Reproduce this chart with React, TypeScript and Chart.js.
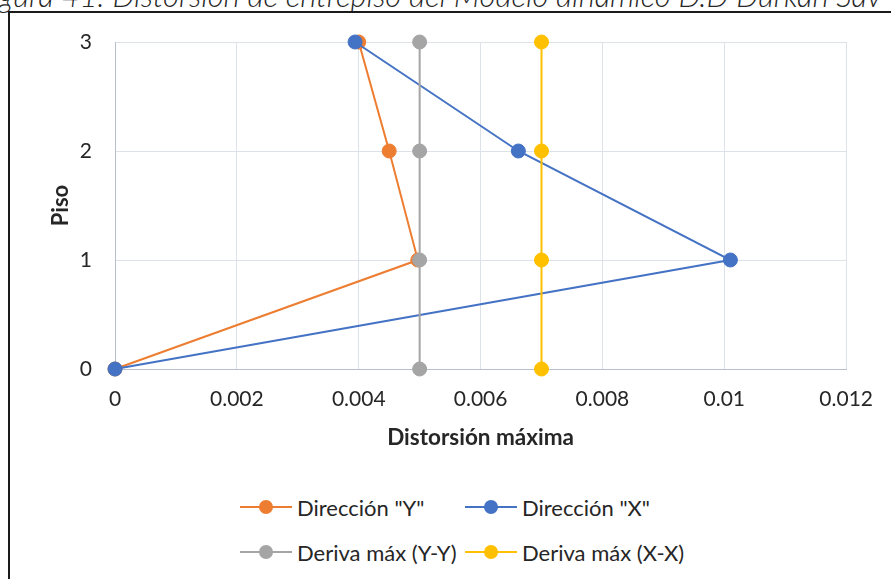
import React, { useEffect, useRef } from "react";
import { Chart, registerables } from "chart.js";

Chart.register(...registerables);

// Storey levels and the inter-storey drift per storey for each series
const pisos = [0, 1, 2, 3];
const direccionY = [0, 0.00497, 0.0045, 0.004];
const direccionX = [0, 0.0101, 0.00662, 0.00394];
const derivaMaxYY = [0.005, 0.005, 0.005, 0.005];
const derivaMaxXX = [0.007, 0.007, 0.007, 0.007];

const seriesNames = ['Dirección "Y"', 'Dirección "X"', "Deriva máx (Y-Y)", "Deriva máx (X-X)"];
const seriesColors = ["#ED7D31", "#4472C4", "#A5A5A5", "#FFC000"];

const xTickValues = [0, 0.002, 0.004, 0.006, 0.008, 0.01, 0.012];
const xTickLabels = ["0", "0.002", "0.004", "0.006", "0.008", "0.01", "0.012"];
const yTickValues = [0, 1, 2, 3];
const yTickLabels = ["0", "1", "2", "3"];

const xTitle = "Distorsión máxima";
const yTitle = "Piso";
const captionText = "Figura 41: Distorsión de entrepiso del Modelo dinámico D.D Durkan Sav";

const FONT = "Lato, 'Noto Sans', sans-serif";
const TEXT = "#262626";
const GRID = "#dde1e8";
const AXIS = "#b7bfcd";

const seriesValues = [direccionY, direccionX, derivaMaxYY, derivaMaxXX];

// legend is laid out in two rows of two entries
const legendSlots = [
  { left: 240, top: 507 },
  { left: 465, top: 507 },
  { left: 240, top: 552 },
  { left: 465, top: 552 },
];

function LegendItem({ name, color, left, top }: { name: string; color: string; left: number; top: number }) {
  return (
    <div
      style={{
        position: "absolute",
        left,
        top: top - 15,
        height: 30,
        display: "flex",
        alignItems: "center",
        whiteSpace: "nowrap",
      }}
    >
      <span style={{ position: "relative", width: 52, height: 16, display: "inline-block" }}>
        <span
          style={{ position: "absolute", left: 0, right: 0, top: 7, height: 2, background: color }}
        />
        <span
          style={{
            position: "absolute",
            left: 19,
            top: 1,
            width: 14,
            height: 14,
            borderRadius: "50%",
            background: color,
          }}
        />
      </span>
      <span style={{ marginLeft: 5, font: `22px ${FONT}`, color: TEXT }}>{name}</span>
    </div>
  );
}

export default function App() {
  const canvasRef = useRef<HTMLCanvasElement | null>(null);

  useEffect(() => {
    const canvas = canvasRef.current;
    if (!canvas) return;

    const datasets = seriesValues.map((vals, i) => ({
      label: seriesNames[i],
      data: pisos.map((p, k) => ({ x: vals[k], y: p })),
      showLine: true,
      borderColor: seriesColors[i],
      backgroundColor: seriesColors[i],
      borderWidth: 2,
      pointRadius: 7,
      pointBorderWidth: 1,
      pointBorderColor: seriesColors[i],
      pointBackgroundColor: seriesColors[i],
      clip: false as const,
      // later series are painted on top of earlier ones
      order: seriesValues.length - i,
    }));

    const chart = new Chart(canvas, {
      type: "scatter",
      data: { datasets },
      options: {
        animation: false,
        responsive: false,
        devicePixelRatio: 1,
        layout: { padding: { left: 0, top: 42, right: 42, bottom: 0 } },
        plugins: {
          legend: { display: false },
          tooltip: { enabled: false },
          title: { display: false },
        },
        scales: {
          x: {
            type: "linear",
            min: 0,
            max: 0.012,
            afterBuildTicks: (scale: any) => {
              scale.ticks = xTickValues.map((v) => ({ value: v }));
            },
            afterFit: (scale: any) => {
              scale.height = 101;
            },
            ticks: {
              padding: 18,
              color: TEXT,
              font: { family: FONT, size: 21 },
              callback: (_v: any, i: number) => xTickLabels[i],
              maxRotation: 0,
            },
            grid: {
              drawTicks: false,
              color: (ctx: any) => (ctx.tick && ctx.tick.value === 0 ? "rgba(0,0,0,0)" : GRID),
              lineWidth: 1,
            },
            border: { display: true, color: AXIS, width: 1 },
            title: {
              display: true,
              text: xTitle,
              color: TEXT,
              font: { family: FONT, size: 22.5, weight: "bold" },
              padding: { top: 0, bottom: 19 },
            },
          },
          y: {
            type: "linear",
            min: 0,
            max: 3,
            afterBuildTicks: (scale: any) => {
              scale.ticks = yTickValues.map((v) => ({ value: v }));
            },
            afterFit: (scale: any) => {
              scale.width = 115;
            },
            ticks: {
              padding: 23,
              color: TEXT,
              font: { family: FONT, size: 21 },
              callback: (_v: any, i: number) => yTickLabels[i],
            },
            grid: {
              drawTicks: false,
              color: (ctx: any) => (ctx.tick && ctx.tick.value === 0 ? "rgba(0,0,0,0)" : GRID),
              lineWidth: 1,
            },
            border: { display: true, color: AXIS, width: 1 },
            title: {
              display: true,
              text: yTitle,
              color: TEXT,
              font: { family: FONT, size: 22, weight: "bold" },
              padding: { top: 48, bottom: 0 },
            },
          },
        },
      },
    });

    return () => chart.destroy();
  }, []);

  return (
    <div
      style={{
        position: "fixed",
        left: 0,
        top: 0,
        width: 891,
        height: 579,
        overflow: "hidden",
        background: "#fff",
      }}
    >
      <div
        style={{
          position: "absolute",
          left: -24,
          top: -23,
          font: `italic 300 31px ${FONT}`,
          lineHeight: "37px",
          color: "#262626",
          whiteSpace: "nowrap",
        }}
      >
        {captionText}
      </div>
      <div
        style={{
          position: "absolute",
          left: 8,
          top: 11,
          width: 1000,
          height: 700,
          border: "2px solid #1a1a1a",
        }}
      />
      <canvas
        ref={canvasRef}
        width={891}
        height={470}
        style={{ position: "absolute", left: 0, top: 0, width: 891, height: 470 }}
      />
      {seriesNames.map((name, i) => (
        <LegendItem
          key={name}
          name={name}
          color={seriesColors[i]}
          left={legendSlots[i].left}
          top={legendSlots[i].top}
        />
      ))}
    </div>
  );
}
